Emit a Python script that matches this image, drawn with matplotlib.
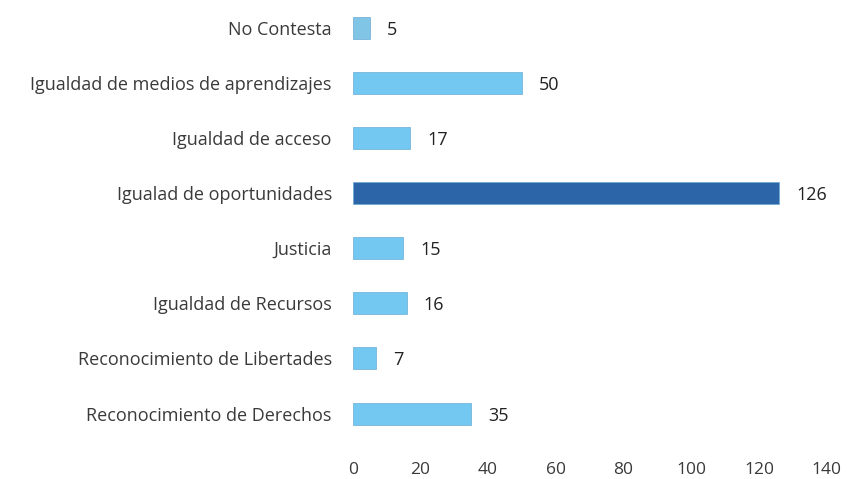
import matplotlib.pyplot as plt

plt.rcParams['font.family'] = ['Open Sans', 'DejaVu Sans']

categorias = ['No Contesta', 'Igualdad de medios de aprendizajes', 'Igualdad de acceso',
              'Igualad de oportunidades', 'Justicia', 'Igualdad de Recursos',
              'Reconocimiento de Libertades', 'Reconocimiento de Derechos']
valores = [5, 50, 17, 126, 15, 16, 7, 35]
colores = ['#80c4e6', '#72c8f0', '#72c8f0', '#2c66a8', '#72c8f0', '#72c8f0', '#72c8f0', '#72c8f0']
x_ticks = [0, 20, 40, 60, 80, 100, 120, 140]

fig = plt.figure(figsize=(8.54, 4.79), dpi=100)
ax = fig.add_axes([0.413, 0.079, 0.555, 0.921])

pos = list(range(len(categorias)))
ax.barh(pos, valores, height=0.4, color=colores, edgecolor='#6aaad2', linewidth=0.5)
for p, v in zip(pos, valores):
    ax.text(v + 5, p, str(v), va='center_baseline', ha='left', fontsize=13, color='#222222')

ax.set_yticks(pos)
ax.set_yticklabels(categorias, fontsize=13, color='#3a3a3a', va='center_baseline')
ax.invert_yaxis()
ax.set_ylim(7.5, -0.5)
ax.set_xlim(0, 140)
ax.set_xticks(x_ticks)
ax.set_xticklabels([str(t) for t in x_ticks], fontsize=12.5, color='#3a3a3a')
ax.tick_params(axis='both', length=0)
ax.tick_params(axis='y', pad=15)
ax.tick_params(axis='x', pad=15)
for s in ax.spines.values():
    s.set_visible(False)

fig.savefig('out.png', dpi=100)
